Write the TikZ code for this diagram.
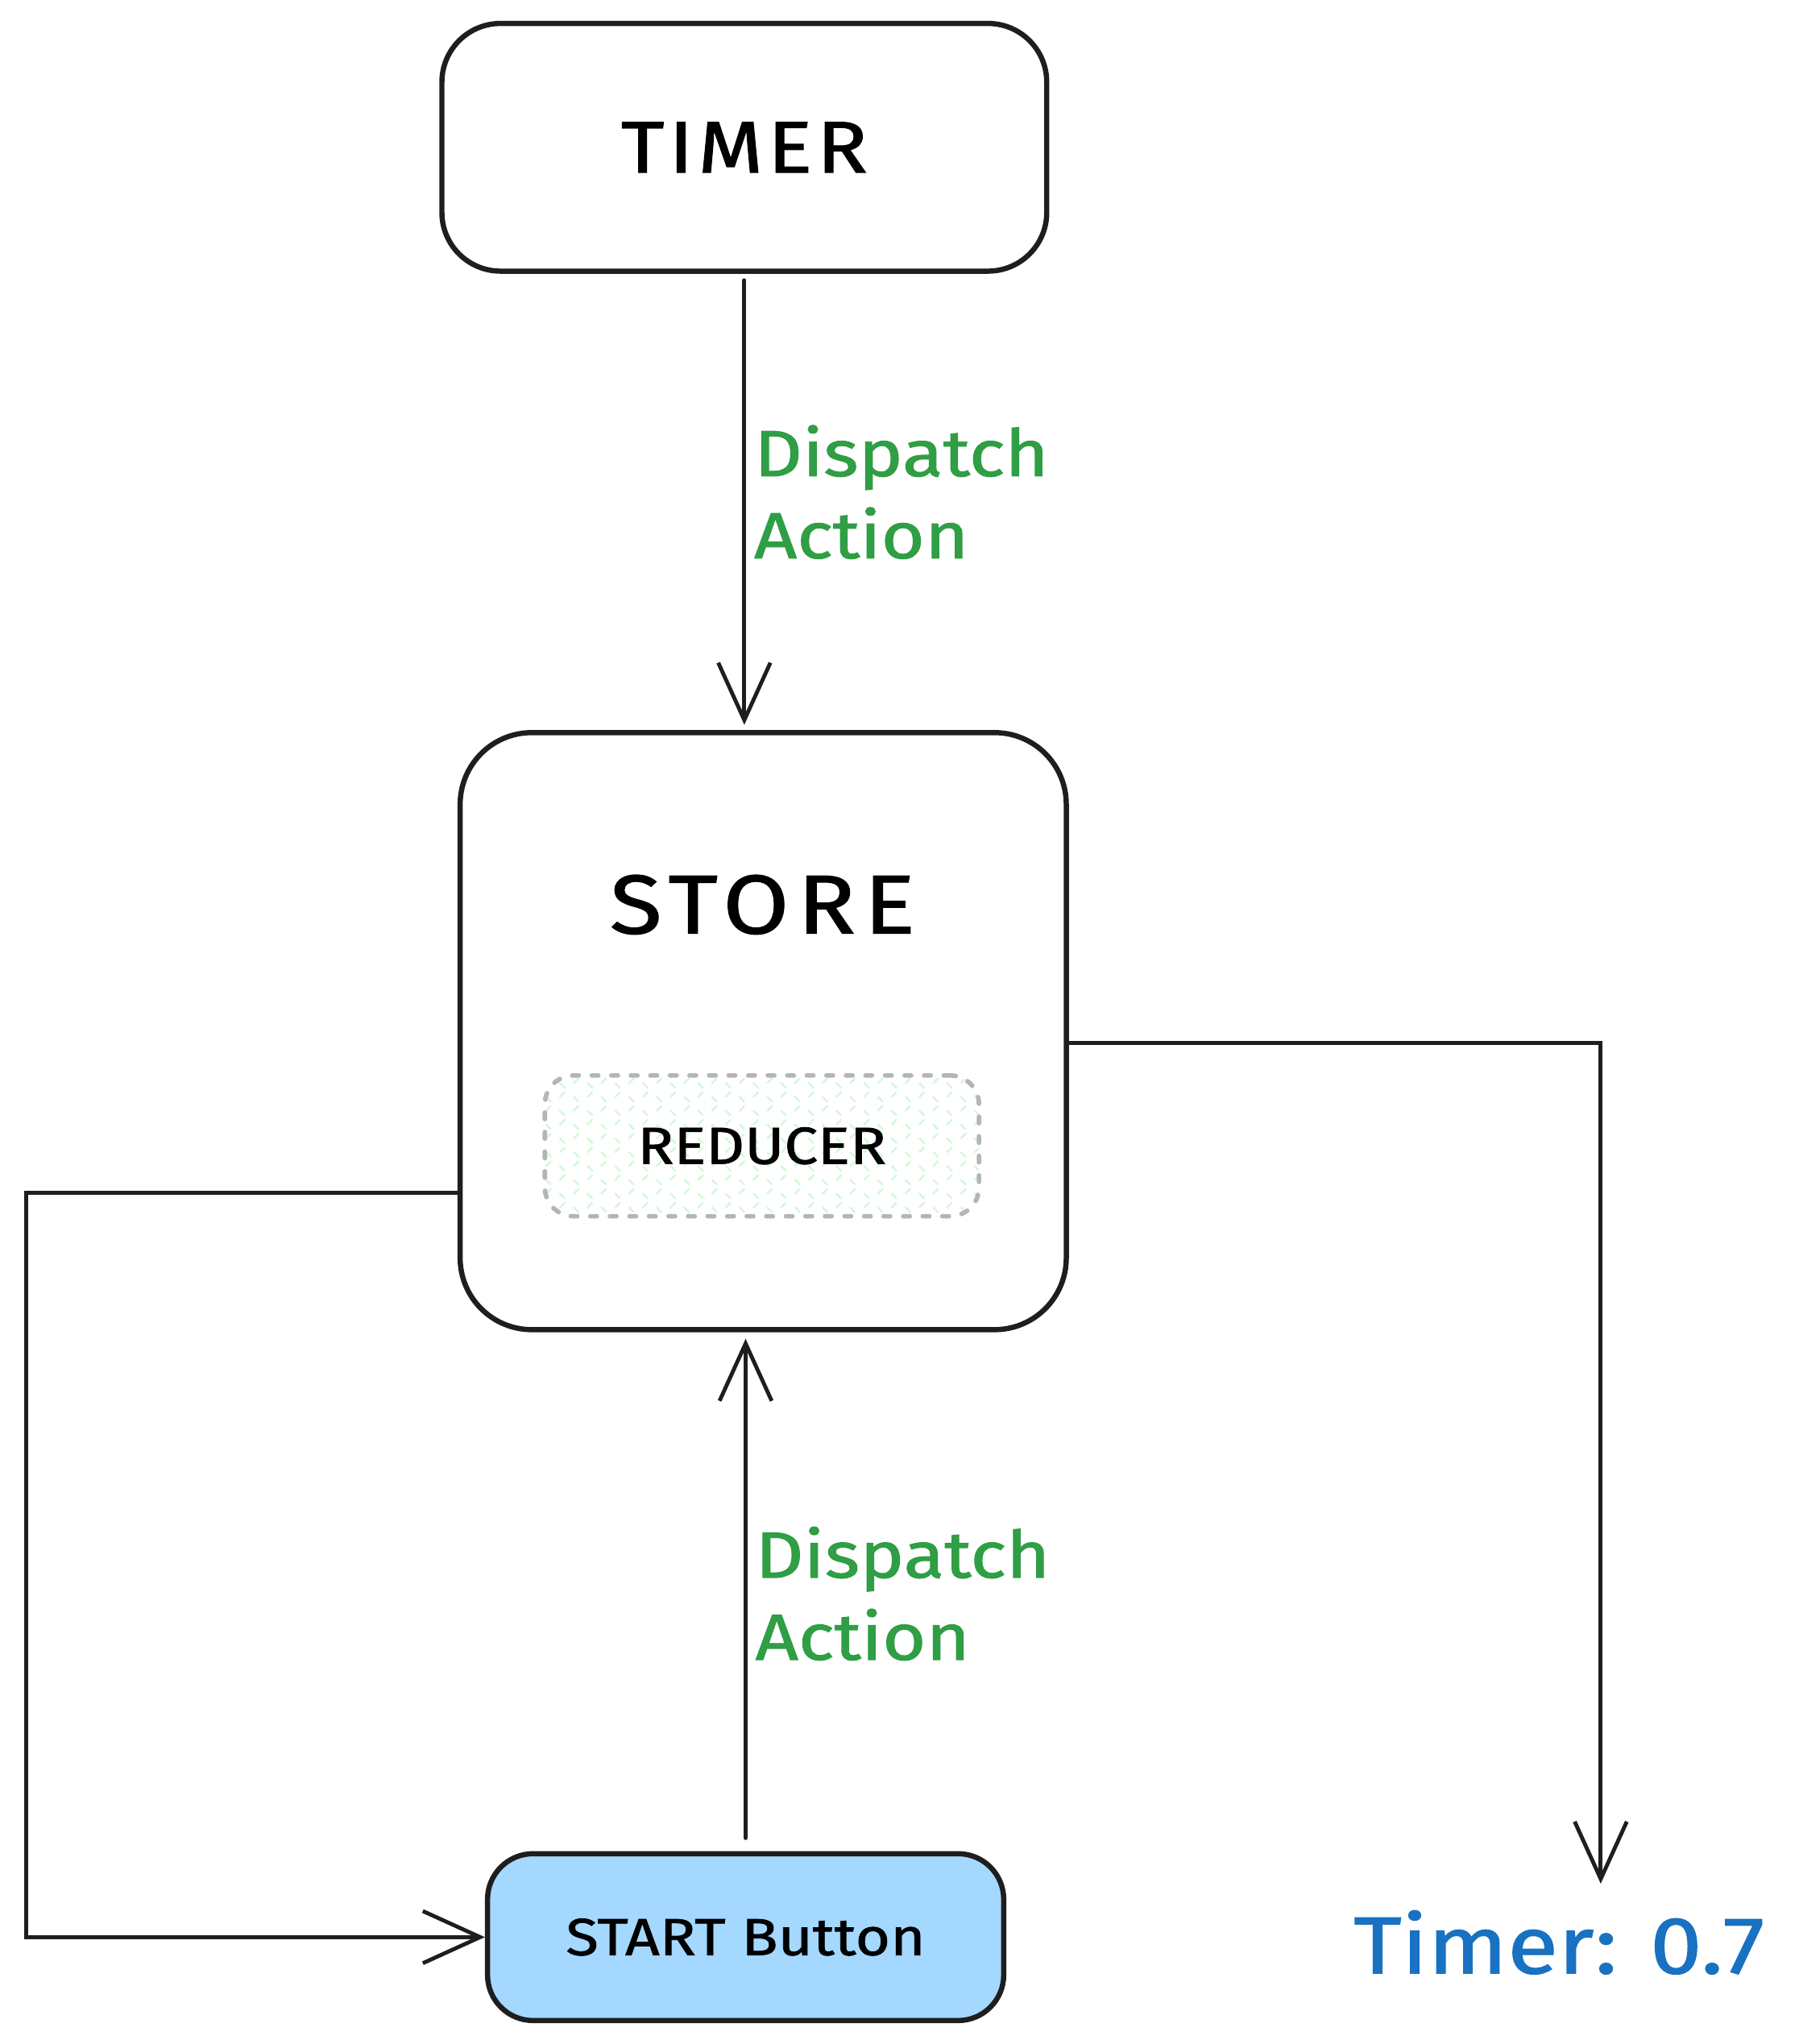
\documentclass[tikz,border=0pt]{standalone}
\usepackage{fontspec}
\setmainfont{Fira Sans}[FakeStretch=1.15,FakeBold=1.2]
\usetikzlibrary{arrows.meta,patterns.meta}
\definecolor{inkblack}{HTML}{1E1E1E}
\definecolor{actgreen}{HTML}{2F9E44}
\definecolor{valblue}{HTML}{1971C2}
\definecolor{btnblue}{HTML}{A5D8FF}
\definecolor{hatchgreen}{HTML}{D3F9D8}
\definecolor{dashgray}{HTML}{B5B5B5}

\tikzset{
  box/.style={draw=inkblack, line width=4pt, rounded corners=#1, inner sep=0pt},
  box/.default=45pt,
  conn/.style={draw=inkblack, line width=3pt, line cap=round,
    -{Straight Barb[length=44pt,width=40pt]}},
  lbl/.style={text=actgreen, align=left, inner sep=6pt,
    font=\fontsize{50}{63}\selectfont},
}

\begin{document}
\begin{tikzpicture}[x=1pt,y=-1pt]
        \path[fill=white,use as bounding box](0,0) rectangle (1380,1568);
        % boxes
        \node[box=45pt, minimum width=464pt, minimum height=190pt,
          font=\fontsize{56}{60}\selectfont\addfontfeature{LetterSpace=6}](timer) at (571,113){TIMER};
        \node[box=55pt, minimum width=465pt, minimum height=458pt](store) at (585.5,791){};
        \node[font=\fontsize{64}{70}\selectfont\addfontfeature{LetterSpace=10}](storelbl) at (585,694){STORE};
        \node[draw=dashgray, line width=3.5pt, dash pattern=on 5pt off 10pt, line cap=round,
          rounded corners=22pt, minimum width=333pt, minimum height=108pt,
          preaction={pattern={Lines[angle=45,distance=15pt,line width=1.5pt]},pattern color=hatchgreen},
          pattern={Lines[angle=-45,distance=15pt,line width=1.5pt]}, pattern color=hatchgreen,
          font=\fontsize{40}{46}\selectfont](reducer) at (584.5,879){REDUCER};
        \node[box=35pt, fill=btnblue, minimum width=396pt, minimum height=128pt,
          font=\fontsize{40}{46}\selectfont](start) at (572,1486){START Button};
        \node[text=valblue, inner sep=0pt, font=\fontsize{62}{70}\selectfont](tmrval) at (1196,1490){Timer: 0.7};
        \coordinate(tmrend) at (1228,1445);
        \coordinate(leftcorner) at (20,915);
        % connectors
        \draw[conn]([yshift=-5pt]timer.south)--([yshift=4pt]timer.south |- store.north)
          node[lbl, midway, right, yshift=8pt]{Dispatch\\Action};
        \draw[conn]([yshift=10pt]start.north)--([yshift=-5pt]start.north |- store.south)
          node[lbl, midway, right, yshift=-4pt]{Dispatch\\Action};
        \draw[conn]([yshift=-9pt]store.east)-|(tmrend);
        \draw[conn]([yshift=-124pt]store.west)--(leftcorner)|-(start.west);
    \end{tikzpicture}
\end{document}
